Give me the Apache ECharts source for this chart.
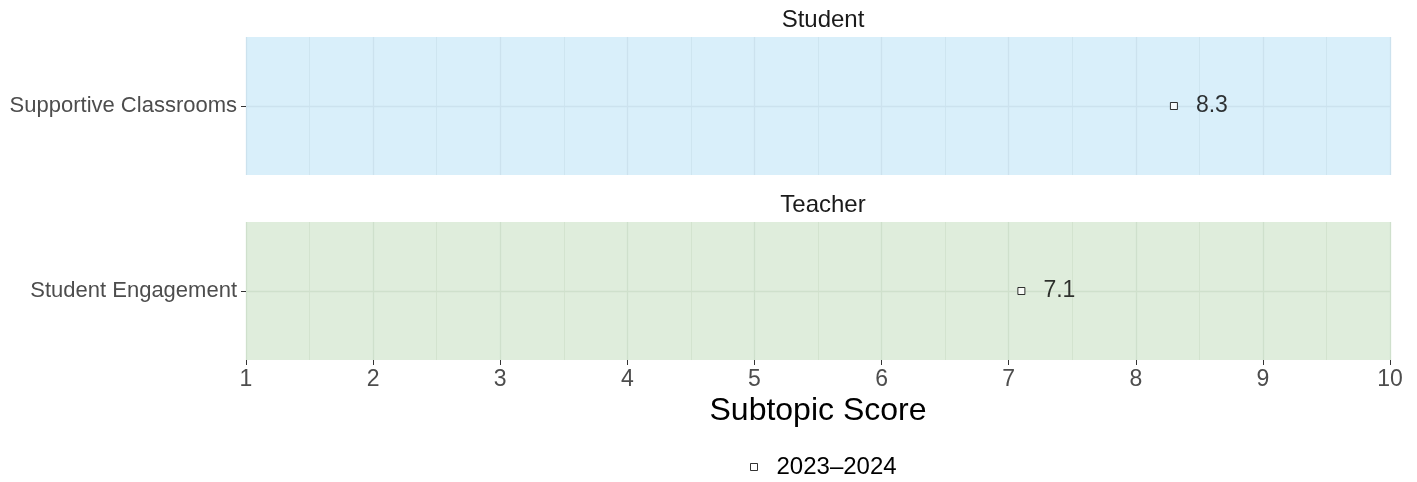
<!DOCTYPE html>
<html>
<head>
<meta charset="utf-8">
<script src="https://cdn.jsdelivr.net/npm/echarts@6/dist/echarts.min.js"></script>
<style>
  html, body { margin: 0; padding: 0; background: #fff; }
  #chart { width: 1417px; height: 482px; }
</style>
</head>
<body>
<div id="chart"></div>
<script>
  // facets, categories and scores
  var panels = ['Student', 'Teacher'];
  var subtopics = [['Supportive Classrooms'], ['Student Engagement']];
  var scores = [[8.3], [7.1]];
  var seriesName = '2023\u20132024';
  var xTicks = [1, 10];

  var panelBg = ['#D9EFFA', '#DFEDDC'];
  var gridCol = ['#CCE2EE', '#CFE0CC'];
  var font = 'Liberation Sans, Arial, sans-serif';

  var chart = echarts.init(document.getElementById('chart'));

  var grids = [], xAxes = [], yAxes = [], series = [], titles = [];
  var tops = [37, 222];
  panels.forEach(function (p, i) {
    grids.push({
      left: 246, right: 27, top: tops[i], height: 138,
      show: true, backgroundColor: panelBg[i], borderWidth: 0
    });
    var bottom = i === panels.length - 1;
    xAxes.push({
      type: 'value', gridIndex: i, min: xTicks[0], max: xTicks[1], interval: 1,
      axisLine: { show: false },
      axisTick: { show: bottom, length: 5, lineStyle: { color: '#333', width: 1 } },
      axisLabel: { show: bottom, color: '#4D4D4D', fontSize: 23, fontFamily: font, margin: 8 },
      splitLine: { show: true, lineStyle: { color: gridCol[i], width: 1.3 } },
      minorTick: { show: false, splitNumber: 2 },
      minorSplitLine: { show: true, lineStyle: { color: gridCol[i], width: 0.8 } },
      name: bottom ? 'Subtopic Score' : '',
      nameLocation: 'middle', nameGap: 35,
      nameTextStyle: { color: '#000', fontSize: 32, fontFamily: font }
    });
    yAxes.push({
      type: 'category', gridIndex: i, data: subtopics[i],
      axisLine: { show: false },
      axisTick: { show: true, alignWithLabel: true, length: 5, lineStyle: { color: '#333' } },
      axisLabel: { color: '#4D4D4D', fontSize: 22, fontFamily: font, margin: 9 },
      splitLine: { show: false }
    });
    series.push({
      name: seriesName, type: 'scatter', xAxisIndex: i, yAxisIndex: i,
      symbol: 'rect', symbolSize: 7,
      itemStyle: { color: '#fff', borderColor: '#000', borderWidth: 1 },
      label: {
        show: true, position: 'right', distance: 18, color: '#000',
        fontSize: 23, fontFamily: font,
        formatter: function (d) { return d.value[0].toFixed(1); }
      },
      data: scores[i].map(function (v, k) { return [v, subtopics[i][k]]; }),
      markLine: {
        silent: true, symbol: 'none', label: { show: false },
        lineStyle: { color: gridCol[i], width: 1.3, type: 'solid' },
        data: subtopics[i].map(function (c) { return { yAxis: c }; }),
        z: 1
      },
      z: 3
    });
    titles.push({
      text: p, left: 818, top: tops[i] - 34, textAlign: 'center',
      textStyle: { color: '#1A1A1A', fontSize: 24, fontWeight: 'normal', fontFamily: font }
    });
  });

  chart.setOption({
    animation: false,
    title: titles,
    grid: grids,
    xAxis: xAxes,
    yAxis: yAxes,
    legend: {
      data: [seriesName], top: 450, left: 745,
      itemWidth: 7, itemHeight: 7,
      itemStyle: { borderWidth: 1 },
      textStyle: { color: '#000', fontSize: 24, fontFamily: font, padding: [0, 0, 0, 14] }
    },
    series: series
  });
</script>
</body>
</html>
